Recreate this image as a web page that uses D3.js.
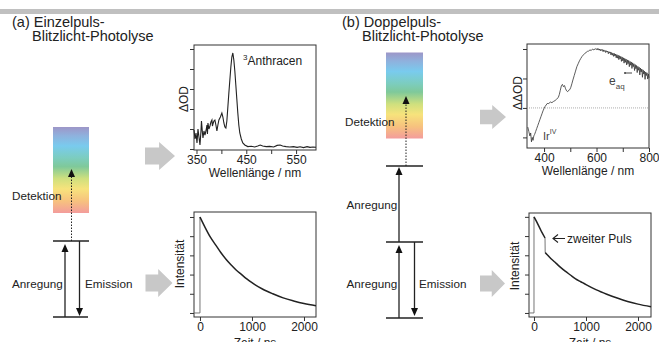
<!DOCTYPE html>
<html>
<head>
<meta charset="utf-8">
<script src="https://cdn.jsdelivr.net/npm/d3@7"></script>
<style>
  body { margin: 0; background: #fff; }
  svg text { font-family: "Liberation Sans", Arial, sans-serif; }
</style>
</head>
<body>
<div id="chart"></div>
<script>
// ---- data ----
// (a) triplet-triplet absorption of anthracene
const anthNm = [345,347,349,351,353,355,357,359,360,362,363,365,367,369,371,372,373,375,377,379,381,382,383,385,387,389,391,393,395,398,401,403,405,407,409,411,413,415,417,419,421,423,425,427,429,431,433,435,437,440,443,447,453,460,467,473,478,483,490,497,505,512,518,523,530,537,545,552,558,565,572,578,584,590];
const anthOD = [0.95,0.5,0.8,0.3,1.0,0.6,0.2,0.9,1.4,0.8,0.55,0.9,0.7,0.9,1.2,0.75,1.3,1.0,1.15,1.35,1.45,1.15,1.25,1.4,1.45,1.2,0.9,1.2,1.45,1.6,1.8,1.6,1.3,1.1,1.05,1.4,2.1,2.8,3.45,4.1,4.6,4.8,4.45,3.9,3.2,2.5,1.8,1.2,0.8,0.5,0.3,0.2,0.12,0.14,0.1,0.15,0.2,0.15,0.12,0.13,0.1,0.18,0.2,0.15,0.12,0.1,0.12,0.08,0.11,0.07,0.12,0.08,0.1,0.09];

// (b) double-pulse difference spectrum
const ddNm = [338,342,346,349,352,355,358,361,364,368,372,376,380,384,388,392,396,400,404,408,412,418,424,430,436,442,448,454,458,462,466,470,474,478,482,486,490,494,498,502,506,510,515,520,525,530,535,540,545,550,555,560,565,570,575,580,585,590,595,
  600,602.5,605,607.5,610,612.5,615,617.5,620,622.5,625,627.5,630,632.5,635,637.5,640,642.5,645,647.5,650,652.5,655,657.5,660,662.5,665,667.5,670,672.5,675,677.5,680,682.5,685,687.5,690,692.5,695,697.5,700,702.5,705,707.5,710,712.5,715,717.5,720,722.5,725,727.5,730,732.5,735,737.5,740,742.5,745,747.5,750,752.5,755,757.5,760,762.5,765,767.5,770,772.5,775,777.5,780,782.5,785,787.5,790,792.5,795,797.5,800];
const ddOD = [-0.65,-0.8,-0.95,-0.85,-1.15,-1.0,-1.1,-0.95,-0.9,-0.8,-0.7,-0.6,-0.5,-0.4,-0.3,-0.2,-0.1,-0.02,0.05,0.1,0.15,0.15,0.2,0.18,0.22,0.25,0.3,0.35,0.45,0.6,0.75,0.8,0.72,0.76,0.65,0.58,0.55,0.6,0.62,0.7,0.82,0.95,1.1,1.25,1.4,1.5,1.6,1.68,1.75,1.8,1.85,1.88,1.92,1.93,1.97,1.95,2.0,1.97,2.01,
  1.98,2.02,1.97,2.01,1.96,2.0,1.94,1.99,1.95,1.98,1.91,1.97,1.92,1.95,1.88,1.94,1.9,1.93,1.84,1.91,1.86,1.9,1.8,1.88,1.79,1.86,1.75,1.85,1.76,1.83,1.7,1.81,1.69,1.79,1.64,1.77,1.66,1.75,1.58,1.73,1.6,1.7,1.52,1.68,1.55,1.66,1.46,1.63,1.5,1.61,1.4,1.58,1.45,1.56,1.34,1.53,1.4,1.5,1.27,1.47,1.33,1.44,1.2,1.41,1.28,1.38,1.12,1.35,1.22,1.32,1.04,1.29,1.15,1.25,0.97,1.22,1.1,1.19,0.98,1.15,1.02];

// (a) emission decay, single pulse
const decayAt = [0,100,200,300,400,500,600,700,800,900,1000,1200,1400,1600,1800,2000,2230];
const decayAI = [1.0,0.89,0.79,0.71,0.63,0.56,0.50,0.445,0.40,0.355,0.315,0.25,0.20,0.157,0.125,0.098,0.075];

// (b) emission decay, second pulse at ~212 ns
const decayB1t = [0,50,100,150,212];
const decayB1I = [1.0,0.95,0.895,0.84,0.78];
const decayB2t = [215,300,400,500,600,700,800,900,1000,1200,1400,1600,1800,2000,2250];
const decayB2I = [0.63,0.58,0.53,0.48,0.435,0.395,0.355,0.325,0.295,0.24,0.195,0.155,0.12,0.092,0.065];

// ticks
const anthXTicks = [350,400,450,500,550];
const anthXLabels = [350,450,550];
const anthYTicks = [0,1,2,3,4,5];
const ddXTicks = [400,500,600,700,800];
const ddXLabels = [400,600,800];
const ddYTicks = [-1,0,1,2];
const decayXTicks = [0,1000,2000];
const decayYTicks = [0,0.2,0.4,0.6,0.8,1.0];

const rainbow = ["#9d96c8","#8fb1dd","#79cbee","#7ccdbf","#7fc99a","#cfe07e","#f7e37c","#f7c27e","#f39c9c"];
const rainbowAt = [0,0.1,0.22,0.36,0.46,0.6,0.72,0.86,1];

const W = 659, H = 342;
const svg = d3.select("#chart").append("svg").attr("width", W).attr("height", H);
const defs = svg.append("defs");

const grad = defs.append("linearGradient").attr("id", "rainbow")
  .attr("x1", 0).attr("y1", 0).attr("x2", 0).attr("y2", 1);
rainbow.forEach((c, i) => grad.append("stop").attr("offset", rainbowAt[i]).attr("stop-color", c));

// top grey rule
svg.append("rect").attr("x", 0).attr("y", 9).attr("width", W).attr("height", 5).attr("fill", "#c0c0c0");

// titles
function title(x, y, l1, l2) {
  svg.append("text").attr("x", x).attr("y", y).attr("fill", "#222").style("font-size", "14.5px").text(l1);
  svg.append("text").attr("x", x + 20).attr("y", y + 14.5).attr("fill", "#222").style("font-size", "14.5px").text(l2);
}
title(12, 26.5, "(a) Einzelpuls-", "Blitzlicht-Photolyse");
title(342, 26.5, "(b) Doppelpuls-", "Blitzlicht-Photolyse");

// ---- panels ----
function panel(o) {
  const x = d3.scaleLinear().domain(o.xd).range([o.x0, o.x1]);
  const y = d3.scaleLinear().domain(o.yd).range([o.y1, o.y0]);
  const g = svg.append("g");

  const ax = g.append("g").attr("transform", `translate(0,${o.y1})`)
    .call(d3.axisBottom(x).tickValues(o.xt).tickSize(4).tickPadding(1)
      .tickFormat(d => o.xl.includes(d) ? d : ""));
  const ay = g.append("g").attr("transform", `translate(${o.x0},0)`)
    .call(d3.axisLeft(y).tickValues(o.yt).tickSize(4).tickFormat(""));
  [ax, ay].forEach(a => {
    a.select(".domain").remove();
    a.selectAll(".tick line").attr("stroke", "#333");
    a.selectAll("text").style("font-family", '"Liberation Sans", Arial, sans-serif')
      .style("font-size", "12px").attr("fill", "#222");
  });

  g.append("rect").attr("x", o.x0).attr("y", o.y0)
    .attr("width", o.x1 - o.x0).attr("height", o.y1 - o.y0)
    .attr("fill", "none").attr("stroke", "#333").attr("stroke-width", 1);

  g.append("text").attr("x", (o.x0 + o.x1) / 2).attr("y", o.xlabY)
    .attr("text-anchor", "middle").attr("fill", "#222")
    .style("font-size", "12px").text(o.xlab);
  g.append("text").attr("transform", `translate(${o.ylabX},${o.ylabY}) rotate(-90)`)
    .attr("text-anchor", "middle").attr("fill", "#222").style("font-size", "12px").text(o.ylab);
  return { g, x, y };
}

const line = (x, y) => d3.line().x(d => x(d[0])).y(d => y(d[1]));
const zip = (a, b) => a.map((v, i) => [v, b[i]]);

// (a) spectrum
{
  const p = panel({ x0: 194, x1: 316, y0: 45, y1: 150, xd: [345, 590], yd: [-0.05, 5.2],
    xt: anthXTicks, xl: anthXLabels, yt: anthYTicks,
    xlab: "Wellenlänge / nm", xlabY: 177, ylab: "ΔOD", ylabX: 188, ylabY: 99 });
  p.g.append("path").datum(zip(anthNm, anthOD)).attr("d", line(p.x, p.y))
    .attr("fill", "none").attr("stroke", "#222").attr("stroke-width", 1.1);
  const t = p.g.append("text").attr("x", 243).attr("y", 65).attr("fill", "#222").style("font-size", "12px");
  t.append("tspan").attr("dy", -5).style("font-size", "8px").text("3");
  t.append("tspan").attr("dy", 5).text("Anthracen");
}

// (b) spectrum
{
  const p = panel({ x0: 527, x1: 649, y0: 44, y1: 148, xd: [335, 800], yd: [-1.36, 2.17],
    xt: ddXTicks, xl: ddXLabels, yt: ddYTicks,
    xlab: "Wellenlänge / nm", xlabY: 175, ylab: "ΔΔOD", ylabX: 522, ylabY: 93 });
  p.g.append("line").attr("x1", p.x(335)).attr("x2", p.x(800)).attr("y1", p.y(0)).attr("y2", p.y(0))
    .attr("stroke", "#999").attr("stroke-width", 0.8).attr("stroke-dasharray", "1,1");
  p.g.append("path").datum(zip(ddNm, ddOD)).attr("d", line(p.x, p.y))
    .attr("fill", "none").attr("stroke", "#333").attr("stroke-width", 0.8);
  const e = p.g.append("text").attr("x", 609).attr("y", 85).attr("fill", "#444").style("font-size", "12px");
  e.append("tspan").text("e");
  e.append("tspan").attr("dy", 4).style("font-size", "8px").text("aq");
  p.g.append("line").attr("x1", 625).attr("x2", 632).attr("y1", 73).attr("y2", 73).attr("stroke", "#444");
  p.g.append("circle").attr("cx", 625).attr("cy", 73).attr("r", 1).attr("fill", "#444");
  const ir = p.g.append("text").attr("x", 543).attr("y", 140).attr("fill", "#444").style("font-size", "11px");
  ir.append("tspan").text("Ir");
  ir.append("tspan").attr("dy", -6).style("font-size", "7px").text("IV");
}

// (a) decay
{
  const p = panel({ x0: 194, x1: 316, y0: 212, y1: 317, xd: [-115, 2231], yd: [-0.042, 1.052],
    xt: decayXTicks, xl: decayXTicks, yt: decayYTicks,
    xlab: "Zeit / ns", xlabY: 347, ylab: "Intensität", ylabX: 184, ylabY: 264 });
  p.g.append("path").datum([[-115, 0], [0, 0], [0, decayAI[0]]]).attr("d", line(p.x, p.y))
    .attr("fill", "none").attr("stroke", "#666").attr("stroke-width", 0.9);
  p.g.append("path").datum(zip(decayAt, decayAI)).attr("d", line(p.x, p.y).curve(d3.curveMonotoneX))
    .attr("fill", "none").attr("stroke", "#222").attr("stroke-width", 1.5);
}

// (b) decay
{
  const p = panel({ x0: 529, x1: 651, y0: 213, y1: 317, xd: [-96, 2250], yd: [-0.042, 1.04],
    xt: decayXTicks, xl: decayXTicks, yt: decayYTicks,
    xlab: "Zeit / ns", xlabY: 347, ylab: "Intensität", ylabX: 519, ylabY: 266 });
  p.g.append("path").datum([[-96, 0], [0, 0], [0, decayB1I[0]]]).attr("d", line(p.x, p.y))
    .attr("fill", "none").attr("stroke", "#666").attr("stroke-width", 0.9);
  p.g.append("path").datum([[decayB1t[4], decayB1I[4]], [decayB2t[0], decayB2I[0]]]).attr("d", line(p.x, p.y))
    .attr("fill", "none").attr("stroke", "#666").attr("stroke-width", 0.9);
  p.g.append("path").datum(zip(decayB1t, decayB1I)).attr("d", line(p.x, p.y))
    .attr("fill", "none").attr("stroke", "#222").attr("stroke-width", 1.5);
  p.g.append("path").datum(zip(decayB2t, decayB2I)).attr("d", line(p.x, p.y).curve(d3.curveMonotoneX))
    .attr("fill", "none").attr("stroke", "#222").attr("stroke-width", 1.5);
  p.g.append("path").attr("d", "M565,238.5H553M558,234.5L553,238.5L558,242.5")
    .attr("fill", "none").attr("stroke", "#222").attr("stroke-width", 1.1);
  p.g.append("text").attr("x", 567).attr("y", 243).attr("fill", "#222").style("font-size", "12px").text("zweiter Puls");
}

// ---- energy-level schemes ----
function level(x1, x2, yy) {
  svg.append("line").attr("x1", x1).attr("x2", x2).attr("y1", yy).attr("y2", yy)
    .attr("stroke", "#222").attr("stroke-width", 1.3);
}
function arrow(xx, yFrom, yTo, dotted) {
  const dir = yTo < yFrom ? 1 : -1;
  const base = yTo + dir * 8;
  svg.append("line").attr("x1", xx).attr("x2", xx).attr("y1", yFrom).attr("y2", base)
    .attr("stroke", "#222").attr("stroke-width", dotted ? 1 : 1.3)
    .attr("stroke-dasharray", dotted ? "1.5,1.5" : null);
  svg.append("path").attr("d", `M${xx},${yTo}L${xx - 3.5},${base}L${xx + 3.5},${base}Z`).attr("fill", "#111");
}
function label(x, y, s) {
  svg.append("text").attr("x", x).attr("y", y).attr("fill", "#222").style("font-size", "11.7px").text(s);
}
function blockArrow(x, y, w, h) {
  const s = x + 0.47 * w;
  svg.append("path").attr("d",
    `M${x},${y + 0.2 * h}H${s}V${y}L${x + w},${y + h / 2}L${s},${y + h}V${y + 0.8 * h}H${x}Z`)
    .attr("fill", "#c8c8c8");
}

// (a)
svg.append("rect").attr("x", 53).attr("y", 127).attr("width", 36).attr("height", 86).attr("fill", "url(#rainbow)");
level(53, 89, 241);
level(53, 88, 317);
arrow(71.5, 241, 169, true);
arrow(65, 317, 244, false);
arrow(79.5, 241, 316, false);
label(12, 200, "Detektion");
label(12, 288, "Anregung");
label(85, 288, "Emission");
blockArrow(145, 142, 30, 28);
blockArrow(145.5, 269, 27, 28);

// (b)
svg.append("rect").attr("x", 386).attr("y", 52.5).attr("width", 37).attr("height", 86).attr("fill", "url(#rainbow)");
level(386, 423, 166);
level(386, 423, 242);
level(386, 423, 318);
arrow(406, 166, 96, true);
arrow(399, 242, 167, false);
arrow(399, 318, 245, false);
arrow(414.5, 242, 316, false);
label(345, 126, "Detektion");
label(346.5, 209, "Anregung");
label(346.5, 288, "Anregung");
label(419, 288, "Emission");
blockArrow(480, 105, 26, 24);
blockArrow(480, 270, 25, 27);
</script>
</body>
</html>
